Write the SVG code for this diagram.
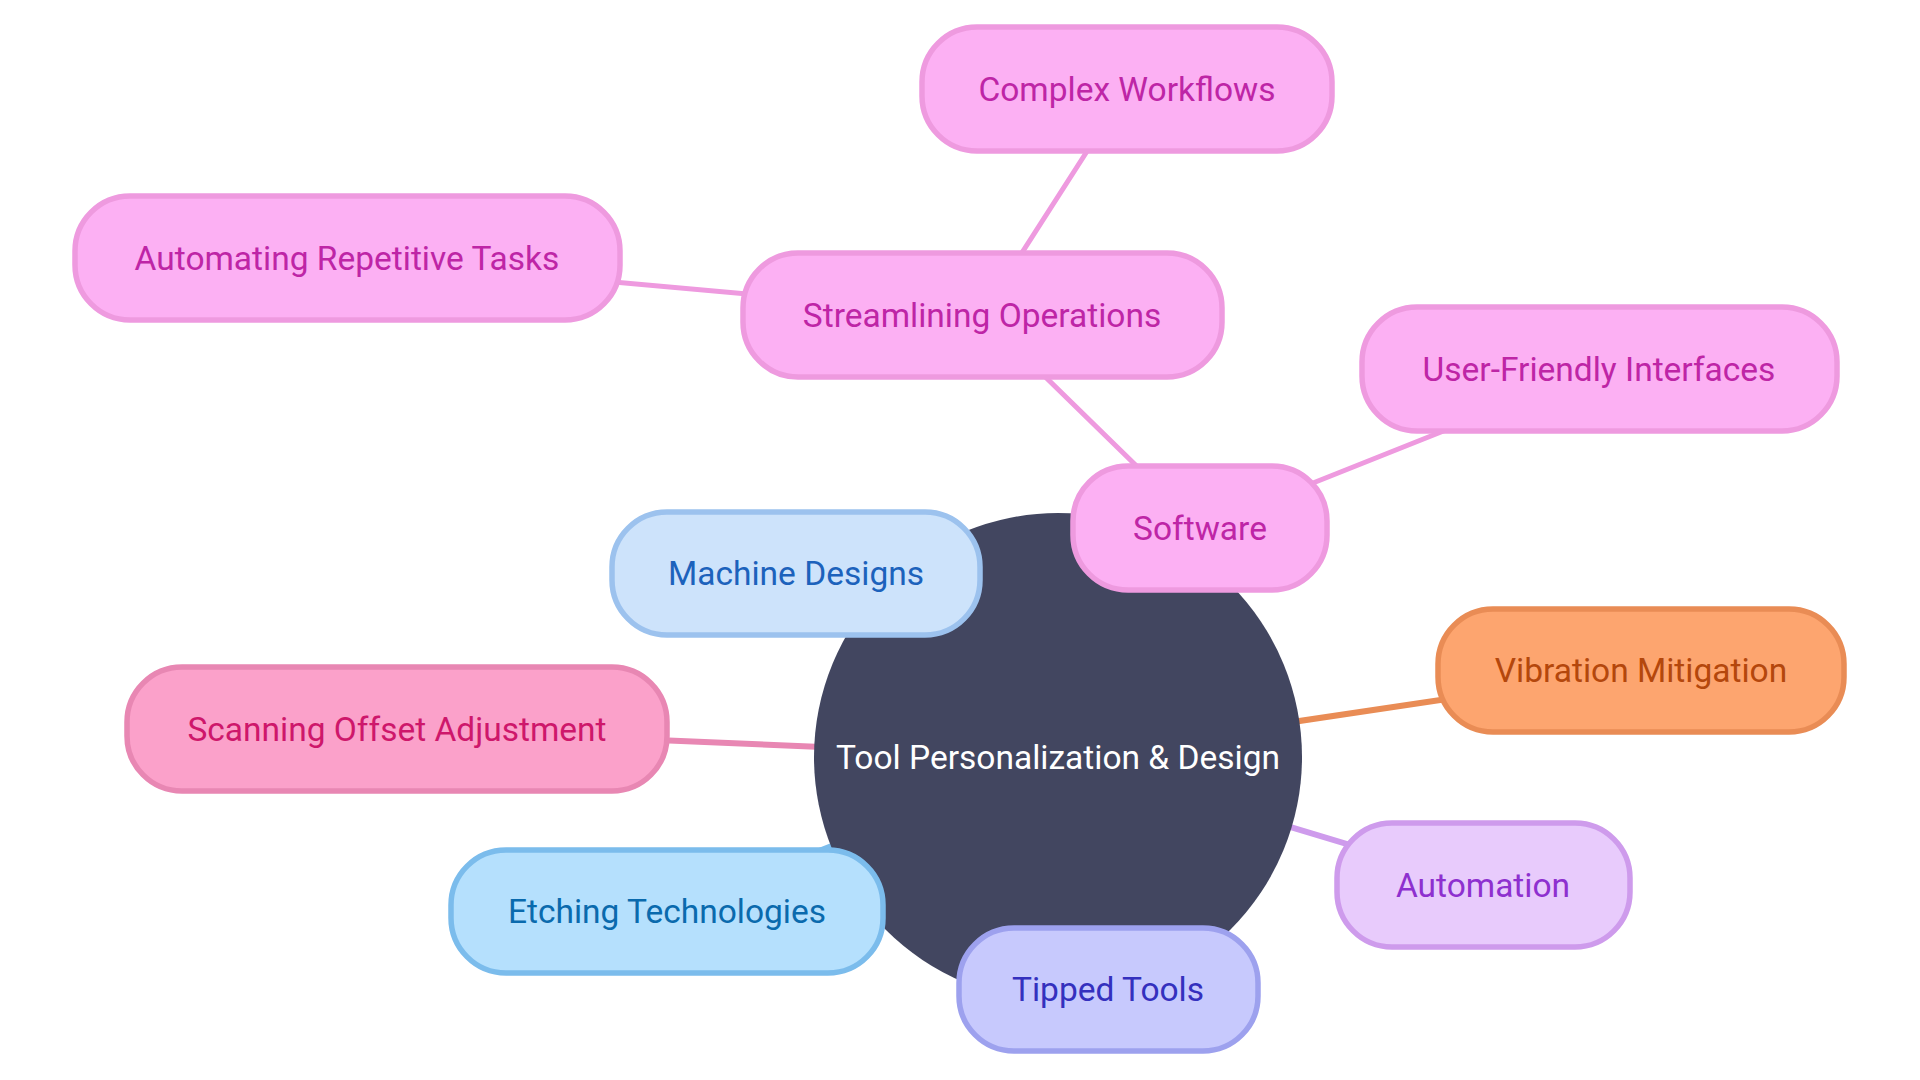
<svg xmlns="http://www.w3.org/2000/svg" width="1920" height="1080" viewBox="0 0 1920 1080">
<style>
text{font-family:Roboto,"Liberation Sans",sans-serif;font-size:33.5px;text-anchor:middle}
.n rect{stroke-width:5.5}
.e line{stroke-linecap:round}
.d1{stroke-width:6}
.d2{stroke-width:5}
.pk rect{fill:#FCB0F3;stroke:#EE9ADF}.pk text{fill:#BE25A6}
.bl rect{fill:#CDE3FB;stroke:#9CC2EE}.bl text{fill:#1C62BC}
.rs rect{fill:#FBA1CA;stroke:#E887B3}.rs text{fill:#CE176B}
.or rect{fill:#FDA56F;stroke:#E98C55}.or text{fill:#B4470C}
.sk rect{fill:#B5E0FD;stroke:#7BBCEC}.sk text{fill:#0A6AAD}
.pu rect{fill:#E8CBFC;stroke:#CE9BEC}.pu text{fill:#8E30CF}
.in rect{fill:#C7C9FD;stroke:#9DA1EE}.in text{fill:#3430BE}
</style>
<rect width="1920" height="1080" fill="#ffffff"/>
<g id="connectors" class="e">
<line class="d2" x1="1127" y1="89" x2="982" y2="315" stroke="#EE9ADF"/>
<line class="d2" x1="347" y1="258" x2="982" y2="315" stroke="#EE9ADF"/>
<line class="d2" x1="982" y1="315" x2="1200" y2="528" stroke="#EE9ADF"/>
<line class="d2" x1="1200" y1="528" x2="1599" y2="369" stroke="#EE9ADF"/>
<line class="d1" x1="1058" y1="757" x2="1200" y2="528" stroke="#EE9ADF"/>
<line class="d1" x1="1058" y1="757" x2="796" y2="573" stroke="#9CC2EE"/>
<line class="d1" x1="1058" y1="757" x2="397" y2="729" stroke="#E887B3"/>
<line class="d1" x1="1058" y1="757" x2="1641" y2="670" stroke="#E98C55"/>
<line class="d1" x1="1058" y1="757" x2="667" y2="911" stroke="#7BBCEC"/>
<line class="d1" x1="1058" y1="757" x2="1483" y2="885" stroke="#CE9BEC"/>
<line class="d1" x1="1058" y1="757" x2="1108" y2="989" stroke="#9DA1EE"/>
</g>
<g id="root">
<circle cx="1058" cy="757" r="244" fill="#424660"/>
<text x="1058" y="769" fill="#ffffff">Tool Personalization &amp; Design</text>
</g>
<g id="complex" class="n pk"><rect x="922" y="27" width="410" height="124" rx="55"/><text x="1127" y="101">Complex Workflows</text></g>
<g id="automating" class="n pk"><rect x="75" y="196" width="545" height="124" rx="55"/><text x="347" y="270">Automating Repetitive Tasks</text></g>
<g id="streamlining" class="n pk"><rect x="743" y="253" width="479" height="124" rx="55"/><text x="982" y="327">Streamlining Operations</text></g>
<g id="userfriendly" class="n pk"><rect x="1362" y="307" width="475" height="124" rx="55"/><text x="1599" y="381">User-Friendly Interfaces</text></g>
<g id="software" class="n pk"><rect x="1073" y="466" width="254" height="124" rx="55"/><text x="1200" y="540">Software</text></g>
<g id="machine" class="n bl"><rect x="612" y="512" width="368" height="123" rx="55"/><text x="796" y="585">Machine Designs</text></g>
<g id="scanning" class="n rs"><rect x="127" y="667" width="540" height="124" rx="55"/><text x="397" y="741">Scanning Offset Adjustment</text></g>
<g id="vibration" class="n or"><rect x="1438" y="609" width="406" height="123" rx="55"/><text x="1641" y="682">Vibration Mitigation</text></g>
<g id="etching" class="n sk"><rect x="451" y="850" width="432" height="123" rx="55"/><text x="667" y="923">Etching Technologies</text></g>
<g id="automation" class="n pu"><rect x="1337" y="823" width="293" height="124" rx="55"/><text x="1483" y="897">Automation</text></g>
<g id="tipped" class="n in"><rect x="959" y="928" width="299" height="123" rx="55"/><text x="1108" y="1001">Tipped Tools</text></g>
</svg>
